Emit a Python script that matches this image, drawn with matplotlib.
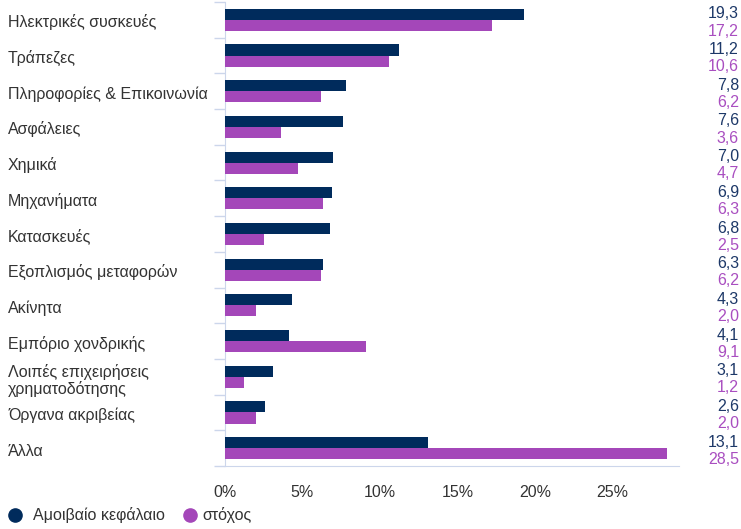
import matplotlib
matplotlib.use("Agg")
import matplotlib.pyplot as plt
import matplotlib.transforms as mtransforms
from matplotlib.lines import Line2D
import numpy as np

plt.rcParams["font.family"] = ["Liberation Sans", "DejaVu Sans"]

NAVY = "#002b5c"
PURPLE = "#a447b9"
NAVY_TXT = "#1d3868"
PURPLE_TXT = "#a94ec0"
AXIS = "#ccd6eb"
TXT = "#333333"

CATEGORIES = [
    "Ηλεκτρικές συσκευές", "Τράπεζες", "Πληροφορίες & Επικοινωνία", "Ασφάλειες",
    "Χημικά", "Μηχανήματα", "Κατασκευές", "Εξοπλισμός μεταφορών", "Ακίνητα",
    "Εμπόριο χονδρικής", "Λοιπές επιχειρήσεις\nχρηματοδότησης", "Όργανα ακριβείας",
    "Άλλα",
]
FUND = [19.3, 11.2, 7.8, 7.6, 7.0, 6.9, 6.8, 6.3, 4.3, 4.1, 3.1, 2.6, 13.1]
TARGET = [17.2, 10.6, 6.2, 3.6, 4.7, 6.3, 2.5, 6.2, 2.0, 9.1, 1.2, 2.0, 28.5]
SERIES = ["Αμοιβαίο κεφάλαιο", "στόχος"]

FS = 11.5
W, H = 741, 529

fig = plt.figure(figsize=(7.41, 5.29), dpi=100)
ax = fig.add_axes([225 / W, 1 - 466 / H, 454 / W, 464 / H])

y = np.arange(len(CATEGORIES))
h = 0.31
ax.barh(y - h / 2, FUND, height=h, color=NAVY, zorder=3)
ax.barh(y + h / 2, TARGET, height=h, color=PURPLE, zorder=3)

ax.set_ylim(len(CATEGORIES) - 0.5, -0.5)
ax.set_xlim(0, 29.3)

ax.set_xticks([0, 5, 10, 15, 20, 25])
ax.set_xticklabels(["0%", "5%", "10%", "15%", "20%", "25%"], fontsize=FS, color=TXT)
ax.tick_params(axis="x", length=0, pad=14)

ax.set_yticks(np.arange(len(CATEGORIES) + 1) - 0.5)
ax.set_yticklabels([])
ax.tick_params(axis="y", length=8, color=AXIS, width=1)

for side in ("top", "right"):
    ax.spines[side].set_visible(False)
ax.spines["left"].set_color(AXIS)
ax.spines["bottom"].set_color(AXIS)

# category labels, left aligned at the figure edge
trans = mtransforms.blended_transform_factory(fig.transFigure, ax.transData)
for i, cat in enumerate(CATEGORIES):
    if "\n" in cat:
        fig.text(8 / W, i + 0.1, cat, transform=trans, ha="left", va="center",
                 fontsize=FS, color=TXT, linespacing=1.05)
    else:
        fig.text(8 / W, i + 0.21, cat, transform=trans, ha="left", va="baseline",
                 fontsize=FS, color=TXT)

# value labels at the right edge
for i, (a, b) in enumerate(zip(FUND, TARGET)):
    fig.text(739 / W, i - 0.04, f"{a:.1f}".replace(".", ","), transform=trans,
             ha="right", va="baseline", fontsize=FS, color=NAVY_TXT)
    fig.text(739 / W, i + 0.44, f"{b:.1f}".replace(".", ","), transform=trans,
             ha="right", va="baseline", fontsize=FS, color=PURPLE_TXT)

# legend
for (mx, tx), name, col in zip([(15, 33), (190, 202)], SERIES, [NAVY, PURPLE]):
    fig.add_artist(Line2D([mx / W], [1 - 515 / H], ls="", marker="o", ms=9.5,
                          color=col, transform=fig.transFigure))
    fig.text(tx / W, 1 - 515 / H, name, ha="left", va="center", fontsize=FS,
             color=TXT)

fig.savefig("out.png")
